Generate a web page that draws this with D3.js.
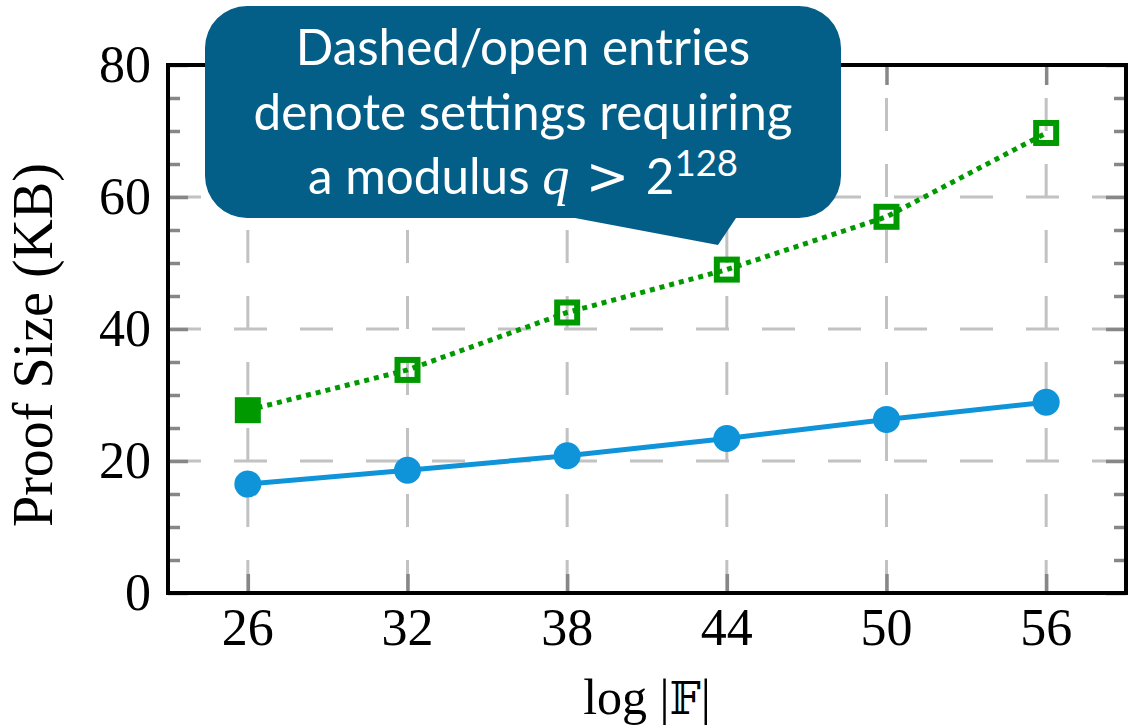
<!DOCTYPE html>
<html>
<head>
<meta charset="utf-8">
<script src="https://cdn.jsdelivr.net/npm/d3@7"></script>
<style>
  html, body { margin: 0; padding: 0; background: #fff; }
  svg { display: block; }
</style>
</head>
<body>
<svg id="chart" width="1132" height="727"></svg>
<script>
// Proof size against field size
const fieldBits = [26, 32, 38, 44, 50, 56];
const xTickLabels = ["26", "32", "38", "44", "50", "56"];
const yTickValues = [0, 20, 40, 60, 80];
const yMinorValues = [5, 10, 15, 25, 30, 35, 45, 50, 55, 65, 70, 75];
const blueSizes = [16.5, 18.6, 20.8, 23.4, 26.3, 28.9];
const greenSizes = [27.7, 33.8, 42.5, 49.0, 57.0, 69.7];
const greenOpen = [false, true, true, true, true, true];
const calloutLines = ["Dashed/open entries", "denote settings requiring"];

const svg = d3.select("#chart");
const serif = "'Liberation Serif', 'DejaVu Serif', serif";
const BLUE = "#0f94da", GREEN = "#009a00", GRID = "#c2c2c2", TICK = "#878787";

const pL = 168, pR = 1126, pT = 65, pB = 593;
const x = d3.scaleLinear().domain([23, 59]).range([pL, pR]);
const y = d3.scaleLinear().domain([0, 80]).range([pB, pT]);

// dashed grid
const grid = svg.append("g").attr("stroke", GRID).attr("stroke-width", 3)
  .attr("stroke-dasharray", "33,33").attr("fill", "none");
grid.selectAll("line.h").data([20, 40, 60]).join("line").attr("class", "h")
  .attr("x1", pL).attr("x2", pR).attr("y1", d => y(d)).attr("y2", d => y(d));
grid.selectAll("line.v").data(fieldBits).join("line").attr("class", "v")
  .attr("x1", d => x(d)).attr("x2", d => x(d)).attr("y1", pB).attr("y2", pT);

// inward ticks on all four sides
function styleTicks(g) {
  g.select(".domain").remove();
  g.selectAll(".tick line").attr("stroke", TICK).attr("stroke-width", 3.5);
}
svg.append("g").attr("transform", `translate(${pL},0)`)
  .call(d3.axisRight(y).tickValues(yMinorValues).tickSize(12).tickFormat(""))
  .call(styleTicks);
svg.append("g").attr("transform", `translate(${pR},0)`)
  .call(d3.axisLeft(y).tickValues(yMinorValues).tickSize(12).tickFormat(""))
  .call(styleTicks);
svg.append("g").attr("transform", `translate(${pL},0)`)
  .call(d3.axisRight(y).tickValues(yTickValues).tickSize(20).tickFormat(""))
  .call(styleTicks);
svg.append("g").attr("transform", `translate(${pR},0)`)
  .call(d3.axisLeft(y).tickValues(yTickValues).tickSize(20).tickFormat(""))
  .call(styleTicks);
svg.append("g").attr("transform", `translate(0,${pB})`)
  .call(d3.axisTop(x).tickValues(fieldBits).tickSize(19).tickFormat(""))
  .call(styleTicks);
svg.append("g").attr("transform", `translate(0,${pT})`)
  .call(d3.axisBottom(x).tickValues(fieldBits).tickSize(20).tickFormat(""))
  .call(styleTicks);

// tick labels
svg.append("g").selectAll("text").data(yTickValues).join("text")
  .attr("x", 151).attr("y", d => y(d) + 17)
  .attr("text-anchor", "end").attr("font-family", serif).attr("font-size", 52)
  .text(d => d);
svg.append("g").selectAll("text").data(fieldBits).join("text")
  .attr("x", d => x(d)).attr("y", 645)
  .attr("text-anchor", "middle").attr("font-family", serif).attr("font-size", 52)
  .text((d, i) => xTickLabels[i]);

// axis titles
const xt = svg.append("text").attr("x", (pL + pR) / 2).attr("y", 714)
  .attr("text-anchor", "middle").attr("font-family", serif).attr("font-size", 50)
  .attr("fill", "#000");
xt.append("tspan").text("log |");
xt.append("tspan").attr("font-family", "'DejaVu Serif', 'DejaVu Sans', serif")
  .attr("font-size", 44).attr("fill", "#000").text("\u{1D53D}");
xt.append("tspan").text("|");
svg.append("text")
  .attr("transform", "translate(52,345) rotate(-90)")
  .attr("text-anchor", "middle").attr("font-family", serif).attr("font-size", 56)
  .text("Proof Size (KB)");

// series lines
const line = d3.line().x(d => x(d[0])).y(d => y(d[1]));
svg.append("path").datum(fieldBits.map((f, i) => [f, greenSizes[i]]))
  .attr("d", line).attr("fill", "none").attr("stroke", GREEN)
  .attr("stroke-width", 5).attr("stroke-dasharray", "5,5");
svg.append("path").datum(fieldBits.map((f, i) => [f, blueSizes[i]]))
  .attr("d", line).attr("fill", "none").attr("stroke", BLUE).attr("stroke-width", 5);

// markers
svg.append("g").selectAll("circle").data(blueSizes).join("circle")
  .attr("cx", (d, i) => x(fieldBits[i])).attr("cy", d => y(d)).attr("r", 13.5)
  .attr("fill", BLUE);
svg.append("g").selectAll("rect").data(greenSizes).join("rect")
  .attr("x", (d, i) => x(fieldBits[i]) - (greenOpen[i] ? 10 : 13))
  .attr("y", (d, i) => y(d) - (greenOpen[i] ? 10 : 13))
  .attr("width", (d, i) => greenOpen[i] ? 20 : 26)
  .attr("height", (d, i) => greenOpen[i] ? 20 : 26)
  .attr("fill", (d, i) => greenOpen[i] ? "none" : GREEN)
  .attr("stroke", (d, i) => greenOpen[i] ? GREEN : "none")
  .attr("stroke-width", 6);

// plot frame
svg.append("rect").attr("x", pL).attr("y", pT)
  .attr("width", pR - pL).attr("height", pB - pT)
  .attr("fill", "none").attr("stroke", "#000").attr("stroke-width", 4);

// callout bubble
const bx0 = 205, bx1 = 841, by0 = 6, by1 = 218, r = 42;
const bubble = d3.path();
bubble.moveTo(bx0 + r, by0);
bubble.lineTo(bx1 - r, by0);
bubble.arcTo(bx1, by0, bx1, by0 + r, r);
bubble.lineTo(bx1, by1 - r);
bubble.arcTo(bx1, by1, bx1 - r, by1, r);
bubble.lineTo(736, by1);
bubble.lineTo(718, 245);
bubble.lineTo(575, by1);
bubble.lineTo(bx0 + r, by1);
bubble.arcTo(bx0, by1, bx0, by1 - r, r);
bubble.lineTo(bx0, by0 + r);
bubble.arcTo(bx0, by0, bx0 + r, by0, r);
bubble.closePath();
svg.append("path").attr("d", bubble.toString()).attr("fill", "#035f88");

const sans = "Lato, 'Open Sans', sans-serif";
const cx = (bx0 + bx1) / 2;
const probe = svg.append("text").attr("font-family", sans).attr("font-size", 46).text(calloutLines[1]);
const fs = 46 * 539 / probe.node().getComputedTextLength();
probe.remove();

const callout = svg.append("g").attr("fill", "#fff").attr("font-family", sans).attr("font-size", fs)
  .attr("text-anchor", "middle");
callout.selectAll("text.l").data(calloutLines).join("text").attr("class", "l")
  .attr("x", cx).attr("y", (d, i) => 65 + i * 65).text(d => d);
const t3 = callout.append("text").attr("x", cx).attr("y", 194);
t3.append("tspan").text("a modulus ");
t3.append("tspan").attr("font-family", serif).attr("font-style", "italic").attr("font-size", fs * 1.1).text("q");
t3.append("tspan").attr("font-family", "'DejaVu Sans', sans-serif").attr("font-size", fs * 1.05).text(" > ");
t3.append("tspan").text("2");
t3.append("tspan").attr("font-size", fs * 0.74).attr("dy", -18).text("128");
</script>
</body>
</html>
